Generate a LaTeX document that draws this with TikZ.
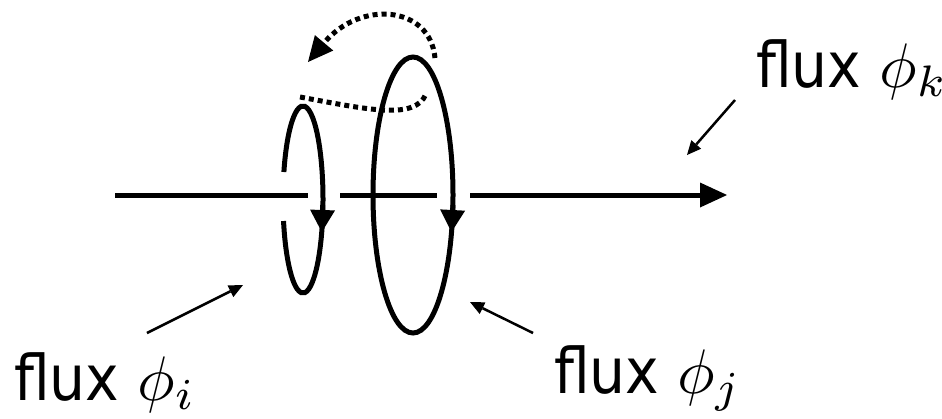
\documentclass[tikz,border=0pt]{standalone}
\usepackage{fontspec}
\setsansfont{DejaVu Sans Condensed}
\usetikzlibrary{arrows.meta}
\begin{document}
\begin{tikzpicture}[x=1pt,y=-1pt,
  loopline/.style={line width=5pt},
  dotline/.style={line width=5pt, dash pattern=on 5pt off 4pt},
  bigtip/.style={-{Triangle[length=22pt,width=25pt,line width=0pt]}},
  pointer/.style={line width=2.5pt,-{Triangle[length=14pt,width=13pt,line width=0pt]}},
  lbl/.style={font=\sffamily\fontsize{10}{12}\selectfont, scale=6.3, anchor=base west, inner sep=0pt}]
\useasboundingbox (0,0) rectangle (942,418);
% axis
\coordinate (a0) at (115,195);
\coordinate (a1) at (308,195);
\coordinate (a2) at (340,195);
\coordinate (a3) at (437,195);
\coordinate (a4) at (470,195);
\coordinate (a5) at (727,195);
\draw[loopline] (a0) -- (a1);
\draw[loopline] (a2) -- (a3);
\draw[loopline,-{Triangle[length=27pt,width=25pt,line width=0pt]}] (a4) -- (a5);
% small loop
\draw[loopline] (303,199.5) ++(197.1:20 and 93.5)
  arc[start angle=197.1, end angle=526.7, x radius=20, y radius=93.5];
\draw[loopline,bigtip] (322.7,205) -- (321.8,232);
% large loop
\draw[loopline] (413,195) ellipse[x radius=40, y radius=138];
\draw[loopline,bigtip] (452.9,205) -- (451.5,232);
% dotted curves
\draw[dotline] (300,97) .. controls (370,110) and (415,120) .. (426,94);
\draw[dotline,-{Triangle[length=25pt,width=24pt,line width=0pt]}] (435,58) .. controls (430,5) and (360,0) .. (308,62);
% labels
\node[lbl] (fi) at (13,400) {flux $\phi_i$};
\node[lbl] (fj) at (553,393) {flux $\phi_j$};
\node[lbl] (fk) at (755,87) {flux $\phi_k$};
\coordinate (pi0) at (147,333);
\coordinate (pi1) at (243,285);
\coordinate (pj0) at (533,333);
\coordinate (pj1) at (470,302);
\coordinate (pk0) at (735,100);
\coordinate (pk1) at (687,155);
\draw[pointer] (pi0) -- (pi1);
\draw[pointer] (pj0) -- (pj1);
\draw[pointer] (pk0) -- (pk1);
\end{tikzpicture}
\end{document}
